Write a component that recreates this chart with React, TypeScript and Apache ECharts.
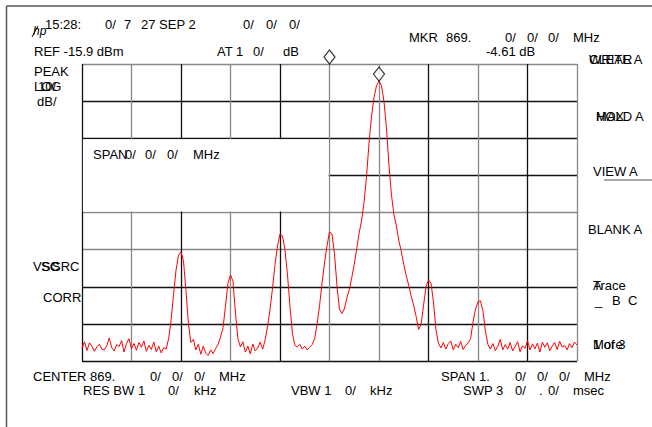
import React, { useEffect, useRef } from "react";
import * as echarts from "echarts";

// Frequency offset from centre (kHz) and level (dB, 10 dB/div, top = 0)
const trace: [number, number][] = [
  [-500, -76.5], [-495, -74.8], [-490, -77.2], [-485, -75.1], [-480, -76.0], [-475, -77.4],
  [-470, -76.2], [-465, -75.5], [-460, -76.8], [-455, -77.0], [-450, -75.9], [-445, -73.8],
  [-440, -76.4], [-435, -77.3], [-430, -75.6], [-425, -76.1], [-420, -74.5], [-415, -77.6],
  [-410, -75.2], [-405, -74.0], [-400, -76.7], [-395, -75.3], [-390, -77.1], [-385, -75.0],
  [-380, -76.3], [-375, -74.6], [-370, -77.4], [-365, -75.8], [-360, -76.9], [-355, -74.9],
  [-350, -77.5], [-345, -76.0], [-340, -77.8], [-335, -76.4],
  [-330, -76.8], [-325, -74.0], [-320, -69.0], [-315, -62.0], [-310, -55.5], [-305, -51.5],
  [-300, -50.6], [-295, -53.0], [-290, -61.0], [-285, -70.0], [-280, -75.0],
  [-275, -74.2], [-270, -77.0], [-265, -75.5], [-260, -78.2], [-255, -76.0], [-250, -77.9],
  [-245, -78.5], [-240, -77.0], [-235, -78.0], [-230, -76.6],
  [-225, -75.5], [-220, -73.5], [-215, -71.0], [-210, -65.0], [-205, -59.0], [-200, -56.8],
  [-195, -58.5], [-190, -67.0], [-185, -74.0], [-180, -76.2],
  [-175, -74.8], [-170, -77.6], [-165, -76.0], [-160, -78.1], [-155, -75.4], [-150, -77.3],
  [-145, -76.5], [-140, -74.9], [-135, -76.8],
  [-130, -74.3], [-125, -70.5], [-120, -66.0], [-115, -60.3], [-110, -54.0], [-105, -49.0],
  [-100, -45.8], [-95, -46.3], [-90, -50.0], [-85, -56.5], [-80, -65.0], [-75, -72.5], [-70, -75.8],
  [-65, -76.2], [-60, -75.5], [-55, -76.8], [-50, -76.0], [-45, -77.0], [-40, -76.3], [-35, -75.6],
  [-30, -74.0], [-25, -70.0], [-20, -65.0], [-15, -59.0], [-10, -53.5], [-5, -49.0],
  [0, -45.2], [5, -45.8], [10, -51.0], [15, -59.5], [20, -66.0], [25, -67.2], [30, -66.0],
  [35, -63.0], [40, -60.8], [45, -57.5], [50, -54.0], [55, -49.8], [60, -45.5], [65, -42.0],
  [70, -37.0], [75, -30.0], [80, -21.0], [85, -14.0], [90, -9.0], [95, -5.8], [100, -4.6],
  [105, -5.8], [110, -10.0], [115, -17.0], [120, -27.0], [125, -35.0], [130, -40.5],
  [135, -43.5], [140, -47.5], [145, -50.5], [150, -54.0], [155, -57.0], [160, -59.5],
  [165, -62.5], [170, -65.0], [175, -68.0], [180, -71.5], [185, -70.2], [190, -65.0],
  [195, -60.0], [200, -58.2], [205, -59.0], [210, -64.0], [215, -71.5], [220, -75.2], [225, -76.5],
  [230, -75.0], [235, -76.8], [240, -75.3], [245, -74.6], [250, -77.0], [255, -75.5],
  [260, -76.4], [265, -74.7], [270, -76.9], [275, -75.8], [280, -75.2],
  [285, -74.0], [290, -69.5], [295, -66.0], [300, -64.0], [305, -63.8], [310, -66.5],
  [315, -72.0], [320, -75.5], [325, -76.8],
  [330, -75.3], [335, -77.2], [340, -76.0], [345, -74.2], [350, -77.0], [355, -75.6],
  [360, -76.8], [365, -75.0], [370, -77.3], [375, -76.1], [380, -74.8], [385, -77.5],
  [390, -75.9], [395, -76.6], [400, -74.5], [405, -77.0], [410, -75.4], [415, -76.7],
  [420, -75.2], [425, -77.6], [430, -74.9], [435, -76.3], [440, -75.1], [445, -77.2],
  [450, -76.0], [455, -75.0], [460, -76.9], [465, -74.7], [470, -76.2], [475, -75.8],
  [480, -77.0], [485, -75.3], [490, -76.4], [495, -74.9], [500, -75.7],
];

// Markers: active marker on peak, reference marker at centre top
const markers: [number, number][] = [
  [100, -4.61],
  [0, 0],
];

const X_MIN = -500;
const X_MAX = 500;
const X_STEP = 100;
const Y_MIN = -80;
const Y_MAX = 0;
const Y_STEP = 10;

const vLineColors = ["#111", "#888", "#111", "#888", "#111", "#888", "#888", "#111", "#888", "#111", "#888"];
const hLineColors = ["#111", "#111", "#111", "#888", "#888", "#111", "#111", "#111", "#888"];

const G = { left: 82, top: 64, width: 495, height: 297 };
const FONT = '"Liberation Sans", Arial, Helvetica, sans-serif';

function t(text: string, x: number, y: number, extra: any = {}) {
  return {
    type: "text",
    x,
    y,
    z: 10,
    silent: true,
    style: {
      text,
      fill: "#000",
      fontSize: 13,
      fontFamily: FONT,
      verticalAlign: "middle",
      align: "left",
      ...extra,
    },
  };
}

export default function App() {
  const ref = useRef<HTMLDivElement>(null);
  useEffect(() => {
    if (!ref.current) return;
    const chart = echarts.init(ref.current, undefined, { renderer: "svg" });
    const colW = G.width / 10;
    const rowH = G.height / 8;
    const graphic: any[] = [
      // blank box on the left middle of the graticule
      {
        type: "rect",
        z: 1,
        silent: true,
        shape: {
          x: G.left + 0.9,
          y: G.top + 2 * rowH + 0.9,
          width: 5 * colW - 1.8,
          height: 2 * rowH - 1.8,
        },
        style: { fill: "#fff" },
      },
      // outer frame
      { type: "line", z: 1, shape: { x1: 6.5, y1: 6, x2: 652, y2: 6 }, style: { stroke: "#555", lineWidth: 1.5 } },
      { type: "line", z: 1, shape: { x1: 6.5, y1: 6, x2: 6.5, y2: 427 }, style: { stroke: "#555", lineWidth: 1.5 } },
      // underline below VIEW A
      { type: "line", z: 1, shape: { x1: 604, y1: 180, x2: 652, y2: 180 }, style: { stroke: "#555", lineWidth: 1.2 } },
      // hp logo
      t("hp", 33, 31, { fontSize: 12, fontStyle: "italic" }),
      { type: "line", z: 10, shape: { x1: 32, y1: 37, x2: 38, y2: 26 }, style: { stroke: "#000", lineWidth: 1 } },
      // top line
      t("15:28:", 45, 24),
      t("0/", 105, 24),
      t("7", 124, 24),
      t("27 SEP 2", 141, 24),
      t("0/", 243, 24),
      t("0/", 266, 24),
      t("0/", 289, 24),
      // second line
      t("REF -15.9 dBm", 34, 51.5),
      t("AT 1", 217, 51.5),
      t("0/", 253, 51.5),
      t("dB", 283, 51.5),
      t("MKR", 409, 37.5),
      t("869.", 446, 37.5),
      t("0/", 505, 37.5),
      t("0/", 527, 37.5),
      t("0/", 548, 37.5),
      t("MHz", 573, 37.5),
      t("-4.61 dB", 486, 51.5),
      // left annotations
      t("PEAK", 34, 71.5),
      t("LOG", 34, 86.5),
      t("10/", 38, 86.5),
      t("dB/", 37, 101),
      t("VSC", 33, 266.5),
      t("SRC", 52, 266.5),
      t("SC", 41, 266.5),
      t("CORR", 43, 297),
      // box text
      t("SPAN", 93, 154),
      t("0/", 125, 154),
      t("0/", 145, 154),
      t("0/", 167, 154),
      t("MHz", 193, 154),
      // softkeys
      t("CLEAR", 589, 59),
      t("WRITE A", 589, 59),
      t("MAX", 596, 116),
      t("HOLD A", 596, 116),
      t("VIEW A", 593, 171),
      t("BLANK A", 588, 229),
      t("A", 593, 285),
      t("Trace", 593, 285),
      t("_", 595, 300),
      t("B", 612, 300),
      t("C", 628, 300),
      t("More", 593, 344),
      t("1 of 3", 593, 344),
      // bottom lines
      t("CENTER 869.", 33, 376),
      t("0/", 150, 376),
      t("0/", 172, 376),
      t("0/", 194, 376),
      t("MHz", 219, 376),
      t("RES BW 1", 83, 390),
      t("0/", 168, 390),
      t("kHz", 194, 390),
      t("VBW 1", 291, 390),
      t("0/", 345, 390),
      t("kHz", 370, 390),
      t("SPAN 1.", 441, 376),
      t("0/", 515, 376),
      t("0/", 537, 376),
      t("0/", 559, 376),
      t("MHz", 584, 376),
      t("SWP 3", 463, 390),
      t("0/", 515, 390),
      t(".", 539, 390),
      t("0/", 548, 390),
      t("msec", 573, 390),
    ];

    chart.setOption({
      animation: false,
      backgroundColor: "#fff",
      grid: { left: G.left, top: G.top, width: G.width, height: G.height, containLabel: false },
      xAxis: {
        type: "value",
        min: X_MIN,
        max: X_MAX,
        interval: X_STEP,
        axisLine: { show: false },
        axisTick: { show: false },
        axisLabel: { show: false },
        splitLine: { show: true, lineStyle: { color: vLineColors, width: 1.3 } },
      },
      yAxis: {
        type: "value",
        min: Y_MIN,
        max: Y_MAX,
        interval: Y_STEP,
        axisLine: { show: false },
        axisTick: { show: false },
        axisLabel: { show: false },
        splitLine: { show: true, lineStyle: { color: hLineColors, width: 1.3 } },
      },
      series: [
        {
          type: "line",
          data: trace,
          symbol: "none",
          showSymbol: false,
          z: 3,
          lineStyle: { color: "#ff0000", width: 1 },
          silent: true,
        },
        {
          type: "scatter",
          data: markers,
          symbol: "diamond",
          symbolSize: [11, 14],
          symbolOffset: [0, -7],
          clip: false,
          z: 5,
          itemStyle: { color: "#fff", borderColor: "#000", borderWidth: 1.2 },
          silent: true,
        },
      ],
      graphic,
    });
    return () => chart.dispose();
  }, []);
  return <div ref={ref} style={{ position: "fixed", left: 0, top: 0, width: 652, height: 427 }} />;
}
